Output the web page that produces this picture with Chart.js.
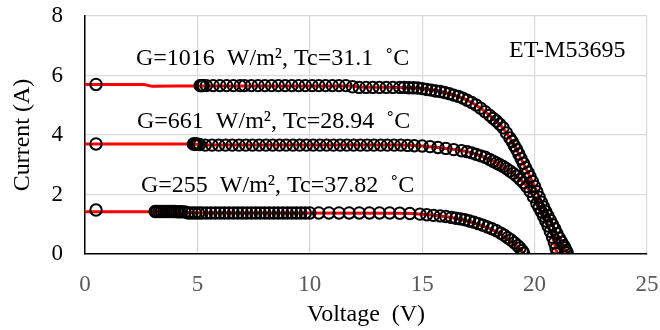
<!DOCTYPE html>
<html>
<head>
<meta charset="utf-8">
<script src="https://cdn.jsdelivr.net/npm/chart.js@4/dist/chart.umd.min.js"></script>
<style>
  html, body { margin: 0; padding: 0; background: #fff; }
  #wrap { width: 660px; height: 330px; }
</style>
</head>
<body>
<div id="wrap"><canvas id="ivChart"></canvas></div>
<script>
//--------------------- Datos medidos (puntos) -----------------------
// G=1016 W/m2
const v1 = [0.49, 5.12, 5.16, 5.2, 5.26, 5.4, 5.7, 6.0, 6.3, 6.6, 6.9, 7.1, 7.4, 7.7, 8.0, 8.3, 8.6, 8.9, 9.2, 9.5, 9.8, 10.1, 10.4, 10.7, 11.0, 11.3, 11.6, 11.9, 12.2, 12.5, 12.8, 13.1, 13.4, 13.7, 14.0, 14.2, 14.4, 14.6, 14.8, 15.0, 15.2, 15.4, 15.6, 15.8, 16.0, 16.2, 16.4, 16.6, 16.8, 17.0, 17.2, 17.4, 17.6, 17.8, 18.0, 18.15, 18.3, 18.45, 18.6, 18.75, 18.9, 19.0, 19.1, 19.2, 19.3, 19.4, 19.5, 19.6, 19.7, 19.8, 19.9, 20.0, 20.1, 20.2, 20.3, 20.4, 20.5, 20.6, 20.7, 20.8, 20.9, 21.0, 21.1, 21.2, 21.3, 21.35, 21.4, 21.45];
const i1 = [5.70, 5.66, 5.66, 5.66, 5.66, 5.66, 5.66, 5.66, 5.66, 5.66, 5.66, 5.66, 5.66, 5.66, 5.66, 5.66, 5.66, 5.66, 5.66, 5.66, 5.66, 5.66, 5.66, 5.66, 5.66, 5.66, 5.66, 5.62, 5.60, 5.60, 5.60, 5.60, 5.60, 5.60, 5.60, 5.60, 5.59, 5.59, 5.58, 5.56, 5.53, 5.51, 5.48, 5.46, 5.43, 5.39, 5.34, 5.30, 5.24, 5.17, 5.09, 5.01, 4.90, 4.78, 4.66, 4.56, 4.47, 4.36, 4.24, 4.07, 3.90, 3.78, 3.64, 3.51, 3.36, 3.20, 3.05, 2.90, 2.75, 2.60, 2.44, 2.27, 2.09, 1.91, 1.74, 1.58, 1.42, 1.28, 1.13, 0.98, 0.84, 0.68, 0.53, 0.40, 0.28, 0.20, 0.12, 0.04];

// G=661 W/m2
const v2 = [0.49, 4.82, 4.86, 4.9, 4.95, 5.0, 5.1, 5.35, 5.65, 5.95, 6.25, 6.55, 6.85, 7.15, 7.45, 7.75, 8.05, 8.35, 8.65, 8.95, 9.25, 9.55, 9.85, 10.15, 10.45, 10.75, 11.05, 11.35, 11.65, 11.95, 12.25, 12.55, 12.85, 13.15, 13.45, 13.75, 14.05, 14.35, 14.65, 15.0, 15.35, 15.7, 16.05, 16.4, 16.75, 17.0, 17.2, 17.4, 17.6, 17.8, 18.0, 18.15, 18.3, 18.45, 18.6, 18.75, 18.9, 19.05, 19.2, 19.35, 19.5, 19.65, 19.8, 19.95, 20.1, 20.2, 20.3, 20.4, 20.5, 20.6, 20.7, 20.8, 20.88, 20.95, 21.0];
const i2 = [3.70, 3.70, 3.70, 3.70, 3.70, 3.69, 3.68, 3.66, 3.66, 3.66, 3.66, 3.66, 3.66, 3.66, 3.66, 3.66, 3.66, 3.66, 3.66, 3.66, 3.66, 3.66, 3.66, 3.66, 3.66, 3.66, 3.66, 3.66, 3.66, 3.66, 3.66, 3.66, 3.66, 3.66, 3.66, 3.66, 3.66, 3.65, 3.64, 3.63, 3.61, 3.58, 3.55, 3.51, 3.47, 3.44, 3.40, 3.35, 3.30, 3.25, 3.18, 3.12, 3.06, 3.00, 2.94, 2.87, 2.79, 2.71, 2.62, 2.51, 2.40, 2.27, 2.11, 1.92, 1.70, 1.56, 1.42, 1.27, 1.11, 0.94, 0.76, 0.56, 0.38, 0.20, 0.03];

// G=255 W/m2
const v3 = [0.49, 3.12, 3.2, 3.3, 3.4, 3.5, 3.6, 3.7, 3.8, 3.9, 4.0, 4.1, 4.2, 4.3, 4.45, 4.6, 4.75, 4.9, 5.05, 5.2, 5.4, 5.6, 5.8, 6.0, 6.2, 6.4, 6.6, 6.8, 7.0, 7.2, 7.4, 7.6, 7.8, 8.0, 8.2, 8.4, 8.6, 8.8, 9.0, 9.2, 9.4, 9.6, 9.8, 10.0, 10.4, 10.85, 11.3, 11.75, 12.2, 12.65, 13.1, 13.55, 14.0, 14.45, 14.9, 15.2, 15.5, 15.8, 16.05, 16.3, 16.5, 16.7, 16.9, 17.1, 17.3, 17.5, 17.7, 17.9, 18.1, 18.3, 18.5, 18.65, 18.8, 18.95, 19.1, 19.25, 19.35, 19.45, 19.51];
const i3 = [1.48, 1.43, 1.43, 1.43, 1.43, 1.43, 1.43, 1.43, 1.43, 1.43, 1.43, 1.42, 1.42, 1.42, 1.41, 1.38, 1.38, 1.38, 1.38, 1.38, 1.38, 1.38, 1.38, 1.38, 1.38, 1.38, 1.38, 1.38, 1.38, 1.38, 1.38, 1.38, 1.38, 1.38, 1.38, 1.38, 1.38, 1.38, 1.38, 1.38, 1.38, 1.38, 1.38, 1.38, 1.38, 1.38, 1.38, 1.38, 1.38, 1.38, 1.38, 1.38, 1.37, 1.36, 1.34, 1.32, 1.30, 1.28, 1.26, 1.23, 1.20, 1.18, 1.15, 1.11, 1.07, 1.02, 0.97, 0.91, 0.85, 0.78, 0.70, 0.63, 0.55, 0.47, 0.38, 0.28, 0.20, 0.11, 0.03];

//--------------------- Modelo (línea roja) -----------------------
const vm1 = [0, 2.6, 3.0, 5.1, 11.9, 12.2, 14.0, 15.0, 16.0, 17.0, 17.6, 18.0, 18.5, 19.0, 19.5, 20.0, 20.5, 21.0, 21.45];
const im1 = [5.70, 5.70, 5.64, 5.65, 5.65, 5.61, 5.60, 5.56, 5.43, 5.17, 4.90, 4.66, 4.32, 3.78, 3.05, 2.27, 1.42, 0.68, 0.04];
const vm2 = [0, 4.8, 5.3, 14.0, 15.0, 16.0, 17.0, 18.0, 18.5, 19.0, 19.5, 20.0, 20.5, 20.8, 21.0];
const im2 = [3.70, 3.70, 3.66, 3.66, 3.63, 3.55, 3.44, 3.18, 2.98, 2.74, 2.40, 1.85, 1.11, 0.56, 0.03];
const vm3 = [0, 3.1, 4.5, 14.0, 15.0, 16.0, 17.0, 18.0, 18.5, 19.0, 19.51];
const im3 = [1.42, 1.42, 1.39, 1.37, 1.34, 1.26, 1.11, 0.85, 0.66, 0.42, 0.03];

const xTicks = [0, 5, 10, 15, 20, 25];
const yTicks = [0, 2, 4, 6, 8];

const etiquetas = [
  { text: 'G=1016  W/m², Tc=31.1  ˚C', x: 136, y: 59 },
  { text: 'G=661  W/m², Tc=28.94  ˚C', x: 137, y: 122 },
  { text: 'G=255  W/m², Tc=37.82  ˚C', x: 141, y: 186 },
  { text: 'ET-M53695', x: 509, y: 51 }
];

const toXY = (vs, is) => vs.map((v, k) => ({ x: v, y: is[k] }));

const FONT = 'Liberation Serif, Times New Roman, serif';

const measured = (vs, is) => ({
  data: toXY(vs, is),
  showLine: false,
  pointStyle: 'circle',
  pointRadius: 5.7,
  pointHoverRadius: 5.7,
  pointBorderWidth: 2,
  pointBorderColor: '#000',
  pointBackgroundColor: 'rgba(0,0,0,0)',
  order: 0
});

const model = (vs, is) => ({
  data: toXY(vs, is),
  showLine: true,
  borderColor: '#ff0000',
  borderWidth: 3,
  pointRadius: 0,
  cubicInterpolationMode: 'monotone',
  order: 1
});

// quita el relleno automático de las escalas para fijar el área del gráfico
const sinPadding = s => { s.paddingTop = 0; s.paddingBottom = 0; s.paddingLeft = 0; s.paddingRight = 0; };

// Textos dentro del gráfico
const textPlugin = {
  id: 'textos',
  afterDatasetsDraw(chart) {
    const ctx = chart.ctx;
    ctx.save();
    ctx.font = '24px ' + FONT;
    ctx.fillStyle = '#000';
    ctx.textAlign = 'left';
    ctx.textBaseline = 'middle';
    etiquetas.forEach(e => ctx.fillText(e.text, e.x, e.y));
    ctx.restore();
  }
};

const ctxIV = document.getElementById('ivChart').getContext('2d');
const ivChart = new Chart(ctxIV, {
  type: 'scatter',
  data: {
    datasets: [
      measured(v1, i1), measured(v2, i2), measured(v3, i3),
      model(vm1, im1), model(vm2, im2), model(vm3, im3)
    ]
  },
  options: {
    responsive: true,
    maintainAspectRatio: false,
    animation: false,
    layout: { autoPadding: false, padding: { top: 16, right: 13, left: 0, bottom: 0 } },
    plugins: { legend: { display: false }, tooltip: { enabled: false } },
    scales: {
      x: {
        type: 'linear',
        min: 0, max: 25,
        afterBuildTicks: s => { s.ticks = xTicks.map(v => ({ value: v })); },
        afterFit: s => { s.height = 76; sinPadding(s); },
        grid: { color: '#d9d9d9', lineWidth: 1.2, drawTicks: false },
        border: { color: '#000', width: 1.5 },
        ticks: { color: '#595959', padding: 17, font: { family: FONT, size: 23 } },
        title: { display: true, text: 'Voltage  (V)', color: '#000', padding: { top: 0, bottom: 1 }, font: { family: FONT, size: 24 } }
      },
      y: {
        type: 'linear',
        min: 0, max: 8,
        afterBuildTicks: s => { s.ticks = yTicks.map(v => ({ value: v })); },
        afterFit: s => { s.width = 85; sinPadding(s); },
        grid: { color: '#d9d9d9', lineWidth: 1.2, drawTicks: false },
        border: { color: '#000', width: 1.5 },
        ticks: { color: '#000', padding: 22, font: { family: FONT, size: 23 } },
        title: { display: true, text: 'Current (A)', color: '#000', padding: { top: 8, bottom: 0 }, font: { family: FONT, size: 24 } }
      }
    }
  },
  plugins: [textPlugin]
});
</script>
</body>
</html>
